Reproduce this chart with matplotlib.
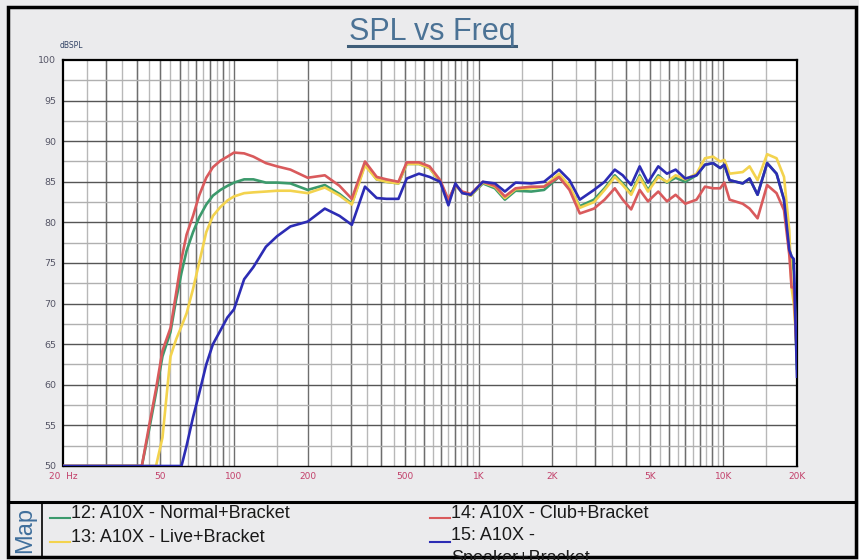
import numpy as np
import matplotlib.pyplot as plt
from matplotlib.lines import Line2D
from matplotlib.patches import Rectangle

# frequency points (Hz)
freq = [20, 40, 42, 45, 48, 51, 55, 58, 61, 64, 68, 72, 77, 82, 88, 94, 100,
        110, 120, 135, 150, 170, 200, 235, 270, 303, 343, 383, 420, 470, 508,
        570, 630, 696, 752, 803, 857, 928, 1040, 1165, 1280, 1415, 1640, 1850,
        2130, 2350, 2590, 2960, 3270, 3600, 3880, 4200, 4550, 4920, 5420, 5880,
        6380, 6990, 7770, 8410, 9080, 9700, 10100, 10600, 12000, 12800, 13800,
        15100, 16500, 17700, 18600, 19000, 19400, 20000]

normal_bracket = [50, 50, 50, 54.5, 59, 63.5, 66.5, 70.5, 73.8, 76.5, 78.8, 80.6, 82.2, 83.3, 84.0, 84.5, 84.9,
                  85.3, 85.3, 84.9, 84.9, 84.8, 84.0, 84.6, 83.5, 82.3, 87.2, 85.3, 85.0, 84.8, 87.2,
                  87.2, 86.7, 85.0, 82.6, 84.6, 83.7, 83.3, 84.8, 84.2, 82.8, 83.9, 83.8, 84.0,
                  85.6, 84.2, 82.0, 82.8, 84.2, 85.8, 84.8, 83.6, 85.8, 84.0, 85.8, 84.9,
                  85.5, 85.0, 85.8, 87.1, 87.3, 86.7, 87.1, 85.2, 84.8, 85.4, 83.4,
                  87.3, 86.0, 82.8, 76.6, 75.8, 74.0, 62.0]

live_bracket = [50, 50, 50, 50, 50, 53.5, 63.5, 65.6, 67.2, 68.8, 71.8, 75.0, 78.8, 80.8, 81.9, 82.7, 83.2,
                83.6, 83.7, 83.8, 83.9, 83.9, 83.6, 84.3, 83.3, 82.2, 87.0, 85.3, 85.0, 84.8, 87.2,
                87.2, 86.7, 85.0, 82.6, 84.6, 83.7, 83.3, 84.9, 84.4, 83.0, 84.1, 84.2, 84.4,
                86.0, 84.5, 81.8, 82.5, 84.0, 85.6, 84.6, 83.4, 85.6, 83.8, 85.6, 85.0,
                85.8, 85.3, 86.0, 87.9, 88.1, 87.5, 87.7, 86.0, 86.2, 86.9, 85.2,
                88.4, 87.9, 85.6, 79.0, 72.0, 70.0, 64.0]

club_bracket = [50, 50, 50, 55.0, 59.5, 64.2, 67.0, 71.3, 75.5, 78.5, 80.8, 83.3, 85.5, 86.8, 87.6, 88.1, 88.6,
                88.5, 88.1, 87.3, 86.9, 86.5, 85.5, 85.8, 84.5, 82.9, 87.5, 85.6, 85.3, 85.0, 87.4,
                87.4, 86.9, 85.2, 82.8, 84.6, 83.8, 83.5, 85.0, 84.5, 83.2, 84.2, 84.4, 84.4,
                85.6, 84.0, 81.1, 81.7, 82.8, 84.2, 82.8, 81.6, 84.0, 82.6, 83.8, 82.6,
                83.4, 82.3, 82.8, 84.4, 84.2, 84.2, 84.9, 82.8, 82.3, 81.7, 80.5,
                84.6, 83.6, 81.5, 76.0, 72.0, 72.0, 63.0]

speaker_bracket = [50, 50, 50, 50, 50, 50, 50, 50, 50, 52.5, 56.0, 58.9, 62.5, 65.0, 66.7, 68.3, 69.3,
                   73.0, 74.5, 77.0, 78.3, 79.5, 80.1, 81.7, 80.8, 79.7, 84.4, 83.0, 82.9, 82.9, 85.4,
                   86.0, 85.6, 85.0, 82.1, 84.8, 83.6, 83.4, 85.0, 84.8, 83.8, 84.9, 84.8, 85.0,
                   86.5, 85.2, 82.8, 84.0, 85.0, 86.5, 85.8, 84.6, 86.9, 84.9, 86.9, 86.0,
                   86.5, 85.4, 85.8, 87.1, 87.3, 86.7, 87.1, 85.2, 84.8, 85.4, 83.4,
                   87.3, 86.0, 82.8, 76.6, 75.8, 75.5, 61.0]

series = [normal_bracket, live_bracket, club_bracket, speaker_bracket]
labels = ['12: A10X - Normal+Bracket', '13: A10X - Live+Bracket',
          '14: A10X - Club+Bracket', '15: A10X -\nSpeaker+Bracket']
colors = ['#3c9a6c', '#f3d34e', '#d95a5c', '#2c2cb4']

x_ticks = [20, 50, 100, 200, 500, 1000, 2000, 5000, 10000, 20000]
x_tick_labels = ['20  Hz', '50', '100', '200', '500', '1K', '2K', '5K', '10K', '20K']
y_ticks = list(range(50, 101, 5))

W, H = 859, 560
bg = '#ebebed'
fig = plt.figure(figsize=(W / 100, H / 100), dpi=100, facecolor=bg)


def fx(px):
    return px / W


def fy(py):
    return 1 - py / H


ax = fig.add_axes([fx(63), fy(466), fx(797) - fx(63), fy(60) - fy(466)])
ax.set_facecolor('white')
ax.set_xscale('log')
ax.set_xlim(20, 20000)
ax.set_ylim(50, 100)

# odd grid of the measurement software
fine = np.concatenate([np.arange(25, 100, 5), [150], np.arange(250, 1000, 50),
                       [1500], np.arange(2500, 10000, 500), [15000]])
coarse = np.concatenate([np.arange(30, 100, 10), [100, 200],
                         np.arange(300, 1000, 100), [1000, 2000],
                         np.arange(3000, 10000, 1000), [10000]])
for f in fine:
    ax.axvline(f, color='#b8b8b8', lw=1.0, zorder=1)
for f in coarse:
    ax.axvline(f, color='#6e6e6e', lw=1.0, zorder=1)
for v in np.arange(52.5, 100, 5):
    ax.axhline(v, color='#b0b0b0', lw=1.0, zorder=1)
for v in np.arange(55, 100, 5):
    ax.axhline(v, color='#555555', lw=1.0, zorder=1)

for vals, col, lab in zip(series, colors, labels):
    ax.plot(freq, vals, color=col, lw=1.9, label=lab, zorder=3)

ax.set_xticks(x_ticks)
ax.set_xticklabels(x_tick_labels)
ax.xaxis.set_minor_locator(plt.NullLocator())
ax.set_yticks(y_ticks)
ax.tick_params(axis='x', length=0, pad=4, labelsize=6.5, labelcolor='#c2406a')
ax.tick_params(axis='y', length=0, pad=5, labelsize=6.8, labelcolor='#555566')
for s in ax.spines.values():
    s.set_color('black')
    s.set_linewidth(1.6)
ax.spines['bottom'].set_linewidth(1.0)

fig.text(fx(60), fy(50), 'dBSPL', fontsize=5.5, color='#334466', va='bottom')

# title with underline
fig.text(fx(432), fy(32), 'SPL vs Freq', fontsize=22, color='#4b7295',
         ha='center', va='center', family='Liberation Sans')
fig.add_artist(Line2D([fx(348), fx(516)], [fy(46), fy(46)], color='#3e5d78', lw=2.2))

# outer frame and map box
fig.add_artist(Rectangle((fx(8), fy(557)), fx(856) - fx(8), fy(7) - fy(557),
                         fill=False, ec='black', lw=2.5))
fig.add_artist(Line2D([fx(8), fx(856)], [fy(502), fy(502)], color='black', lw=2.2))
fig.add_artist(Line2D([fx(42), fx(42)], [fy(502), fy(557)], color='black', lw=1.2))
fig.text(fx(25), fy(530), 'Map', rotation=90, fontsize=17, color='#3f6f9c',
         ha='center', va='center', family='Liberation Sans')

leg_pos = [(50, 513), (50, 537), (430, 513), (430, 537)]
for (px, py), col, lab in zip(leg_pos, colors, labels):
    fig.add_artist(Line2D([fx(px), fx(px + 20)], [fy(py + 5), fy(py + 5)], color=col, lw=1.5))
    t = fig.text(fx(px + 21), fy(py), lab, fontsize=13, color='#1a1a1a',
                 va='center', ha='left', family='Liberation Sans', linespacing=1.45)
    if '\n' in lab:
        t.set_va('top')
        t.set_y(fy(py - 10))
        t.set_clip_on(True)
        t.set_clip_box(fig.bbox)

fig.savefig('out.png', dpi=100, facecolor=bg)
